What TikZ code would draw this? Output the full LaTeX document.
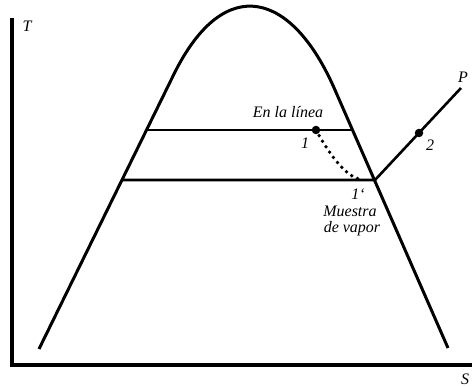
\documentclass[tikz,border=0pt]{standalone}
\usepackage{fontspec}
\setmainfont{Liberation Serif}
\begin{document}
\begin{tikzpicture}[x=1pt,y=-1pt,font=\fontsize{16}{18}\selectfont\itshape,
  linea/.style={line width=2.6pt},
  punto/.style={circle,fill,inner sep=0pt,minimum size=8.5pt}]
  \useasboundingbox (0,0) rectangle (472,387);
  % ejes
  \draw[line width=3.2pt] (12,18) -- (12,365) -- (472,365);
  \node at (27,26) {T};
  \node at (465,379) {S};
  % campana
  \draw[line width=3pt,line join=round] (39,349) -- (175,72)
    .. controls (225,-27) and (292,-9) .. (335,90) -- (448,348);
  \coordinate (a1) at (146,130); \coordinate (b1) at (353,130);
  \coordinate (a2) at (122,180); \coordinate (v) at (375,180);
  \coordinate (pe) at (461,88);
  \draw[linea] (a1) -- (b1);
  \draw[linea] (a2) -- (v) -- (pe);
  \node[punto] (p1) at (316,130) {};
  \node[punto] (p2) at (419,133) {};
  \draw[line width=3.8pt,line cap=round,dash pattern=on 0pt off 6.5pt]
    (p1.center) .. controls (328,152) and (345,177) .. (362,180);
  % textos
  \node at (288,112) {En la línea};
  \node at (305,143) {1};
  \node at (358,194) {1`};
  \node at (350,211) {Muestra};
  \node at (352,229) {de vapor};
  \node at (430,145) {2};
  \node at (463,77) {P};
\end{tikzpicture}
\end{document}
